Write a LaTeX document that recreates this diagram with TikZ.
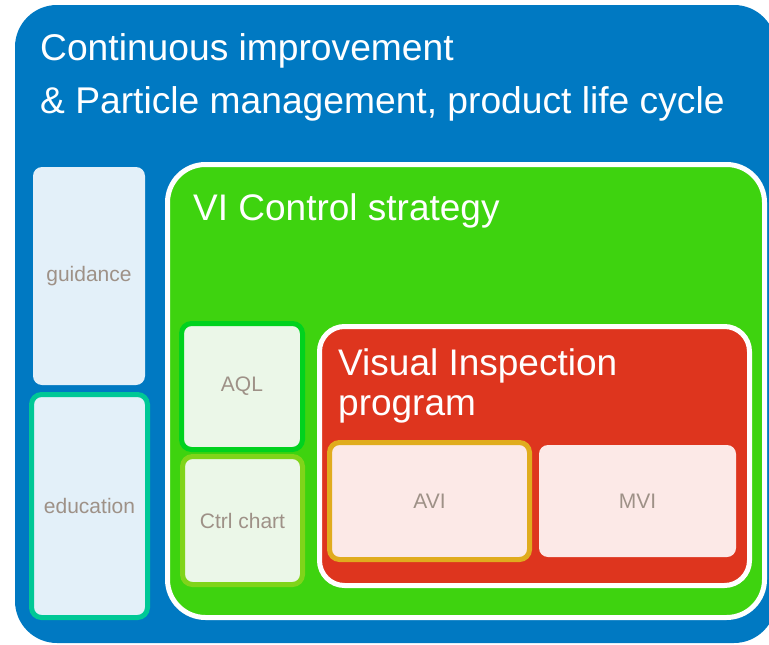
\documentclass[tikz,border=0pt]{standalone}
\usepackage{fontspec}
\setmainfont{Liberation Sans}
\definecolor{cblue}{RGB}{0,121,194}
\definecolor{cgreen}{RGB}{62,211,15}
\definecolor{cred}{RGB}{222,53,30}
\definecolor{cteal}{RGB}{0,200,150}
\definecolor{caql}{RGB}{0,210,30}
\definecolor{cctrl}{RGB}{128,212,26}
\definecolor{cavi}{RGB}{224,172,30}
\definecolor{flblue}{RGB}{227,240,249}
\definecolor{flgreen}{RGB}{235,247,232}
\definecolor{flpink}{RGB}{252,233,231}
\definecolor{cgray}{RGB}{158,145,135}
\begin{document}
\begin{tikzpicture}[x=1pt,y=-1pt,
  box/.style={rectangle,inner sep=0pt,outer sep=0pt},
  bigtitle/.style={anchor=base west,text=white,font=\fontsize{37.2}{44}\selectfont,inner sep=0pt},
  subtitle/.style={anchor=base west,text=white,font=\fontsize{37}{44}\selectfont,inner sep=0pt},
  lbl/.style={text=cgray,font=\fontsize{21}{25}\selectfont},
  smallbox/.style={box,rounded corners=10pt,line width=5pt}]
\useasboundingbox (0,0) rectangle (769,645);
\begin{scope}
\clip (0,0) rectangle (769,645);
\node[box,fill=cblue,rounded corners=42pt,minimum width=761pt,minimum height=638pt] (outer) at (395.5,324) {};
\end{scope}
\node[bigtitle] (t1) at (40,60) {Continuous improvement};
\node[bigtitle] (t2) at (40,113) {\& Particle management, product life cycle};
\node[box,fill=flblue,rounded corners=9pt,minimum width=112pt,minimum height=218pt] (guid) at (89,276) {};
\node[lbl] (guidt) at (guid) {guidance};
\node[smallbox,draw=cteal,fill=flblue,minimum width=116pt,minimum height=223pt] (edu) at (89.5,506) {};
\node[lbl] (edut) at (edu) {education};
\node[box,draw=white,line width=5pt,fill=cgreen,rounded corners=38pt,minimum width=597pt,minimum height=453pt] (green) at (466,391) {};
\node[subtitle] (gt) at (193,220) {VI Control strategy};
\node[smallbox,draw=caql,fill=flgreen,minimum width=121pt,minimum height=126pt] (aql) at (242,386.5) {};
\node[lbl] (aqlt) at (aql) {AQL};
\node[smallbox,draw=cctrl,fill=flgreen,minimum width=120pt,minimum height=128pt] (ctrl) at (242.5,520.5) {};
\node[lbl] (ctrlt) at (ctrl) {Ctrl chart};
\node[box,draw=white,line width=5pt,fill=cred,rounded corners=25pt,minimum width=430pt,minimum height=259pt] (red) at (534.5,456) {};
\node[subtitle] (rt1) at (338,375) {Visual Inspection};
\node[subtitle] (rt2) at (338,415) {program};
\node[smallbox,draw=cavi,fill=flpink,minimum width=200pt,minimum height=117pt] (avi) at (429.5,501) {};
\node[lbl] (avit) at (avi) {AVI};
\node[box,fill=flpink,rounded corners=9pt,minimum width=197pt,minimum height=112pt] (mvi) at (637.5,501) {};
\node[lbl] (mvit) at (mvi) {MVI};
\end{tikzpicture}
\end{document}
